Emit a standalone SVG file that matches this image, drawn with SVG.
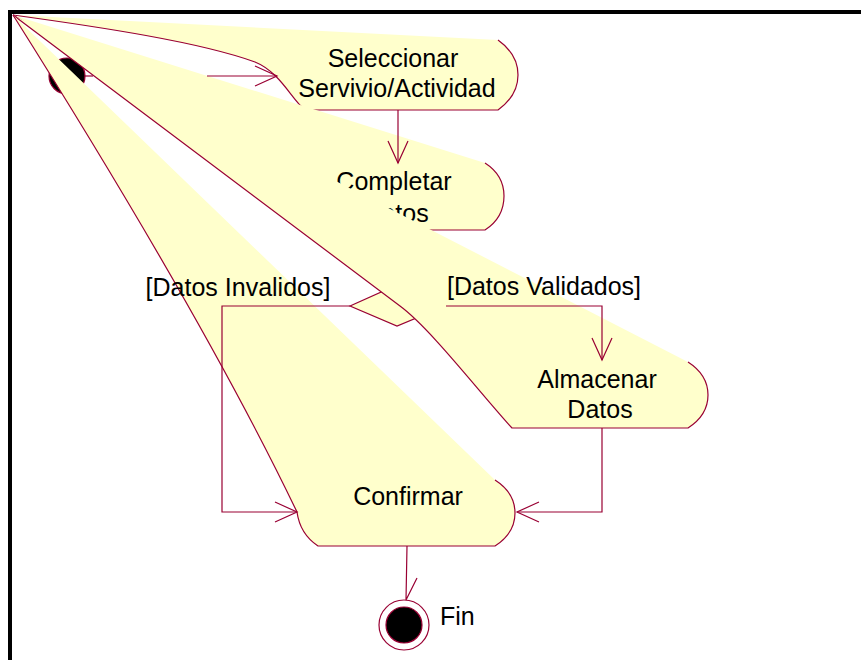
<svg xmlns="http://www.w3.org/2000/svg" width="861" height="660" viewBox="0 0 861 660">
<style>
.fill{fill:#FFFFCC;stroke:none}
.edge{fill:none;stroke:#990033;stroke-width:1.2}
.conn{fill:none;stroke:#990033;stroke-width:1.2}
.t{font-family:"Liberation Sans",Arial,sans-serif;font-size:25px;fill:#000;text-anchor:middle}
</style>
<defs>
<marker id="ah" markerWidth="24" markerHeight="22" refX="22" refY="11" orient="auto" markerUnits="userSpaceOnUse" viewBox="0 0 24 22" overflow="visible">
<path d="M0,1 L22,11 L0,21" fill="none" stroke="#990033" stroke-width="1.2"/>
</marker>
</defs>
<rect x="0" y="0" width="861" height="660" fill="#fff"/>
<g id="start">
<circle cx="67" cy="76" r="18" fill="#000" stroke="#990033" stroke-width="1.2"/>
</g>
<g id="seleccionar">
<path class="fill" d="M13,15 L498,40 C512,50 518,62 518,75 C518,88 512,100 498,110 L305,110 C292,100 280,72 255,62 C200,42 100,27 13,15 Z"/>
<path class="edge" d="M498,40 C512,50 518,62 518,75 C518,88 512,100 498,110 L305,110 C292,100 280,72 255,62 C200,42 100,27 13,15"/>
<text class="t" x="393" y="67">Seleccionar</text>
<text class="t" x="397" y="97">Servivio/Actividad</text>
</g>
<g id="completar">
<path class="fill" d="M13,15 L485,163 C499,172 504,183 504,196 C504,209 499,221 485,230 L318,230 C300,222 296,190 13,15 Z"/>
<path class="edge" d="M485,163 C499,172 504,183 504,196 C504,209 499,221 485,230 L318,230 C300,222 296,190 13,15"/>
<text class="t" x="394" y="190">Completar</text>
<text class="t" x="396" y="222">Datos</text>
</g>
<g id="decision">
<path d="M350,306 L397,285 L445,306 L397,326 Z" fill="#FFFFCC" stroke="#990033" stroke-width="1.2"/>
</g>
<g id="almacenar">
<path class="fill" d="M13,15 L688,362 C702,371 708,381 708,395 C708,409 702,419 688,428 L512,428 C480,393 430,328 400,306 Z"/>
<path class="edge" d="M688,362 C702,371 708,381 708,395 C708,409 702,419 688,428 L512,428 C480,393 430,328 400,306 L13,15"/>
<text class="t" x="597" y="388">Almacenar</text>
<text class="t" x="600" y="418">Datos</text>
</g>
<g id="confirmar">
<path class="fill" d="M13,15 L495,480 C509,489 515,500 515,513 C515,526 509,537 495,546 L318,546 Q300,534 297,512 Q204,318 13,15 Z"/>
<path class="edge" d="M495,480 C509,489 515,500 515,513 C515,526 509,537 495,546 L318,546 Q300,534 297,512 Q204,318 13,15"/>
<text class="t" x="408" y="505">Confirmar</text>
</g>
<g id="fin">
<circle cx="404" cy="625" r="25" fill="#fff" stroke="#990033" stroke-width="1.2"/>
<circle cx="404" cy="625" r="18" fill="#000" stroke="#990033" stroke-width="1.2"/>
<text class="t" x="440" y="625" style="text-anchor:start">Fin</text>
</g>
<g id="connectors">
<path class="conn" d="M85,76 H93"/>
<path class="conn" d="M207,76 H277" marker-end="url(#ah)"/>
<path class="conn" d="M398,110 V163" marker-end="url(#ah)"/>
<path class="conn" d="M350,306 H222 V512 H297" marker-end="url(#ah)"/>
<path class="conn" d="M446,306 H602 V360" marker-end="url(#ah)"/>
<path class="conn" d="M602,428 V512 H517" marker-end="url(#ah)"/>
<path class="conn" d="M407,546 L406,600 M417,578 L406,600"/>
<text class="t" x="238" y="296">[Datos Invalidos]</text>
<text class="t" x="544" y="295">[Datos Validados]</text>
</g>
<path d="M10,660 V12 H861" fill="none" stroke="#000" stroke-width="4"/>
</svg>
